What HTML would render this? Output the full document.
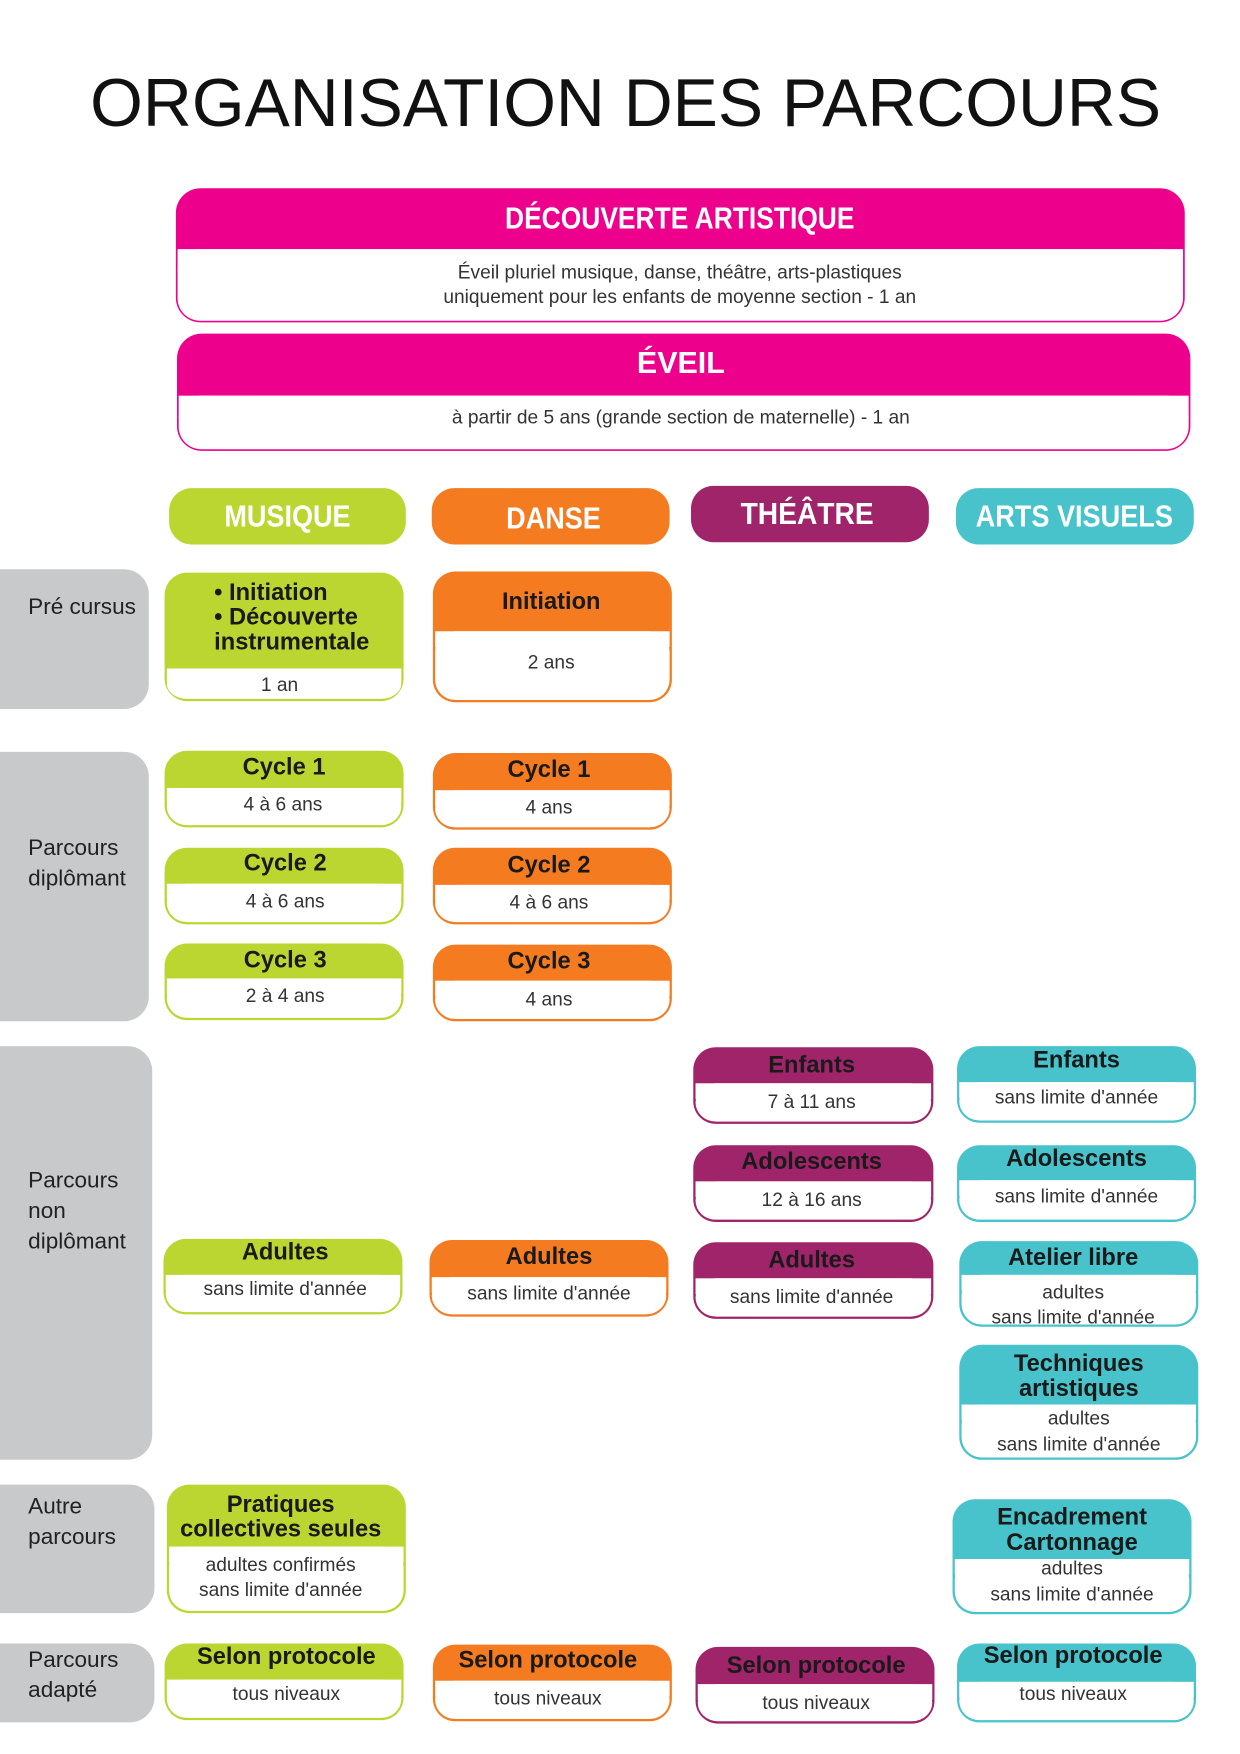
<!DOCTYPE html>
<html><head><meta charset="utf-8"><style>
html,body{margin:0;padding:0;background:#fff;}
svg{display:block;}
text{font-family:"Liberation Sans",sans-serif;dominant-baseline:central;}
.h{font-weight:bold;font-size:21px;fill:#1a1a1a;text-anchor:middle;}
.b{font-size:17px;fill:#333;text-anchor:middle;}
.w{font-weight:bold;fill:#fff;text-anchor:middle;}
.l{font-size:20px;fill:#222;}
</style></head><body>
<svg width="1240" height="1754" viewBox="0 0 1100 1556" xmlns="http://www.w3.org/2000/svg">
<text x="555" y="92" text-anchor="middle" font-size="60" fill="#111" textLength="950" lengthAdjust="spacingAndGlyphs">ORGANISATION DES PARCOURS</text>

<!-- Découverte -->
<rect x="156" y="167" width="895" height="119" rx="22" fill="#EC008C"/>
<rect x="157.5" y="221" width="892" height="63.5" rx="20" fill="#fff"/>
<rect x="157.5" y="221" width="892" height="20" fill="#fff"/>
<text class="w" x="603" y="194" font-size="27" textLength="310" lengthAdjust="spacingAndGlyphs">DÉCOUVERTE ARTISTIQUE</text>
<text class="b" x="603" y="242">Éveil pluriel musique, danse, théâtre, arts-plastiques</text>
<text class="b" x="603" y="264">uniquement pour les enfants de moyenne section - 1 an</text>

<!-- Eveil -->
<rect x="157" y="296" width="899" height="104" rx="22" fill="#EC008C"/>
<rect x="158.5" y="351" width="896" height="47.5" rx="20" fill="#fff"/>
<rect x="158.5" y="351" width="896" height="20" fill="#fff"/>
<text class="w" x="604" y="322" font-size="27">ÉVEIL</text>
<text class="b" x="604" y="371">à partir de 5 ans (grande section de maternelle) - 1 an</text>

<!-- categories -->
<rect x="150" y="433" width="210" height="50" rx="20" fill="#BCD631"/>
<text class="w" x="255" y="458" font-size="27" textLength="112" lengthAdjust="spacingAndGlyphs">MUSIQUE</text>
<rect x="383" y="433" width="211" height="50" rx="20" fill="#F47B20"/>
<text class="w" x="491" y="460" font-size="27" textLength="84" lengthAdjust="spacingAndGlyphs">DANSE</text>
<rect x="613" y="431" width="211" height="50" rx="20" fill="#A0246A"/>
<text class="w" x="716" y="456" font-size="27" textLength="118" lengthAdjust="spacingAndGlyphs">THÉÂTRE</text>
<rect x="848" y="433" width="211" height="50" rx="20" fill="#48C3CB"/>
<text class="w" x="953" y="458" font-size="27" textLength="175" lengthAdjust="spacingAndGlyphs">ARTS VISUELS</text>

<!-- left labels -->
<g fill="#C8C9CB">
<rect x="-30" y="505" width="162" height="124" rx="22"/>
<rect x="-30" y="667" width="162" height="239" rx="22"/>
<rect x="-30" y="928" width="165" height="367" rx="22"/>
<rect x="-30" y="1317" width="167" height="114" rx="22"/>
<rect x="-30" y="1458" width="167" height="70" rx="22"/>
</g>
<text class="l" x="25" y="538">Pré cursus</text>
<text class="l" x="25" y="752">Parcours</text>
<text class="l" x="25" y="779">diplômant</text>
<text class="l" x="25" y="1047">Parcours</text>
<text class="l" x="25" y="1074">non</text>
<text class="l" x="25" y="1101">diplômant</text>
<text class="l" x="25" y="1336">Autre</text>
<text class="l" x="25" y="1363">parcours</text>
<text class="l" x="25" y="1472">Parcours</text>
<text class="l" x="25" y="1499">adapté</text>

<!-- MUSIQUE column -->
<g>
<rect x="146" y="508" width="212" height="114" rx="20" fill="#BCD631"/>
<rect x="148" y="593" width="208" height="27" rx="18" fill="#fff"/><rect x="148" y="593" width="208" height="12" fill="#fff"/>
<text class="h" x="190" y="526" style="text-anchor:start">• Initiation</text>
<text class="h" x="190" y="548" style="text-anchor:start">• Découverte</text>
<text class="h" x="190" y="570" style="text-anchor:start">instrumentale</text>
<text class="b" x="248" y="608">1 an</text>

<rect x="146" y="666" width="212" height="68" rx="20" fill="#BCD631"/>
<rect x="148" y="699" width="208" height="33" rx="18" fill="#fff"/><rect x="148" y="699" width="208" height="14" fill="#fff"/>
<text class="h" x="252" y="681">Cycle 1</text><text class="b" x="251" y="714">4 à 6 ans</text>

<rect x="146" y="752" width="212" height="68" rx="20" fill="#BCD631"/>
<rect x="148" y="784" width="208" height="34" rx="18" fill="#fff"/><rect x="148" y="784" width="208" height="14" fill="#fff"/>
<text class="h" x="253" y="766">Cycle 2</text><text class="b" x="253" y="800">4 à 6 ans</text>

<rect x="146" y="837" width="212" height="68" rx="20" fill="#BCD631"/>
<rect x="148" y="868" width="208" height="35" rx="18" fill="#fff"/><rect x="148" y="868" width="208" height="14" fill="#fff"/>
<text class="h" x="253" y="852">Cycle 3</text><text class="b" x="253" y="884">2 à 4 ans</text>

<rect x="145" y="1099" width="212" height="67" rx="20" fill="#BCD631"/>
<rect x="147" y="1131" width="208" height="33" rx="18" fill="#fff"/><rect x="147" y="1131" width="208" height="14" fill="#fff"/>
<text class="h" x="253" y="1111">Adultes</text><text class="b" x="253" y="1144">sans limite d'année</text>

<rect x="148" y="1317" width="212" height="114" rx="20" fill="#BCD631"/>
<rect x="150" y="1372" width="208" height="57" rx="18" fill="#fff"/><rect x="150" y="1372" width="208" height="14" fill="#fff"/>
<text class="h" x="249" y="1335">Pratiques</text><text class="h" x="249" y="1357">collectives seules</text>
<text class="b" x="249" y="1389">adultes confirmés</text><text class="b" x="249" y="1411">sans limite d'année</text>

<rect x="146" y="1458" width="212" height="68" rx="20" fill="#BCD631"/>
<rect x="148" y="1490" width="208" height="34" rx="18" fill="#fff"/><rect x="148" y="1490" width="208" height="14" fill="#fff"/>
<text class="h" x="254" y="1470">Selon protocole</text><text class="b" x="254" y="1503">tous niveaux</text>
</g>

<!-- DANSE column -->
<g>
<rect x="384" y="507" width="212" height="116" rx="20" fill="#F47B20"/>
<rect x="386" y="560" width="208" height="61" rx="18" fill="#fff"/><rect x="386" y="560" width="208" height="14" fill="#fff"/>
<text class="h" x="489" y="534">Initiation</text><text class="b" x="489" y="588">2 ans</text>

<rect x="384" y="668" width="212" height="68" rx="20" fill="#F47B20"/>
<rect x="386" y="701" width="208" height="33" rx="18" fill="#fff"/><rect x="386" y="701" width="208" height="14" fill="#fff"/>
<text class="h" x="487" y="683">Cycle 1</text><text class="b" x="487" y="717">4 ans</text>

<rect x="384" y="752" width="212" height="68" rx="20" fill="#F47B20"/>
<rect x="386" y="785" width="208" height="33" rx="18" fill="#fff"/><rect x="386" y="785" width="208" height="14" fill="#fff"/>
<text class="h" x="487" y="768">Cycle 2</text><text class="b" x="487" y="801">4 à 6 ans</text>

<rect x="384" y="838" width="212" height="68" rx="20" fill="#F47B20"/>
<rect x="386" y="870" width="208" height="34" rx="18" fill="#fff"/><rect x="386" y="870" width="208" height="14" fill="#fff"/>
<text class="h" x="487" y="853">Cycle 3</text><text class="b" x="487" y="887">4 ans</text>

<rect x="381" y="1100" width="212" height="68" rx="20" fill="#F47B20"/>
<rect x="383" y="1133" width="208" height="33" rx="18" fill="#fff"/><rect x="383" y="1133" width="208" height="14" fill="#fff"/>
<text class="h" x="487" y="1115">Adultes</text><text class="b" x="487" y="1148">sans limite d'année</text>

<rect x="384" y="1459" width="212" height="68" rx="20" fill="#F47B20"/>
<rect x="386" y="1491" width="208" height="34" rx="18" fill="#fff"/><rect x="386" y="1491" width="208" height="14" fill="#fff"/>
<text class="h" x="486" y="1473">Selon protocole</text><text class="b" x="486" y="1507">tous niveaux</text>
</g>

<!-- THEATRE column -->
<g>
<rect x="615" y="929" width="213" height="68" rx="20" fill="#A0246A"/>
<rect x="617" y="961" width="209" height="34" rx="18" fill="#fff"/><rect x="617" y="961" width="209" height="14" fill="#fff"/>
<text class="h" x="720" y="945">Enfants</text><text class="b" x="720" y="978">7 à 11 ans</text>

<rect x="615" y="1016" width="213" height="68" rx="20" fill="#A0246A"/>
<rect x="617" y="1048" width="209" height="34" rx="18" fill="#fff"/><rect x="617" y="1048" width="209" height="14" fill="#fff"/>
<text class="h" x="720" y="1031">Adolescents</text><text class="b" x="720" y="1065">12 à 16 ans</text>

<rect x="615" y="1102" width="213" height="68" rx="20" fill="#A0246A"/>
<rect x="617" y="1134" width="209" height="34" rx="18" fill="#fff"/><rect x="617" y="1134" width="209" height="14" fill="#fff"/>
<text class="h" x="720" y="1118">Adultes</text><text class="b" x="720" y="1151">sans limite d'année</text>

<rect x="617" y="1461" width="212" height="68" rx="20" fill="#A0246A"/>
<rect x="619" y="1494" width="208" height="33" rx="18" fill="#fff"/><rect x="619" y="1494" width="208" height="14" fill="#fff"/>
<text class="h" x="724" y="1478">Selon protocole</text><text class="b" x="724" y="1511">tous niveaux</text>
</g>

<!-- ARTS VISUELS column -->
<g>
<rect x="849" y="928" width="212" height="68" rx="20" fill="#48C3CB"/>
<rect x="851" y="960" width="208" height="34" rx="18" fill="#fff"/><rect x="851" y="960" width="208" height="14" fill="#fff"/>
<text class="h" x="955" y="941">Enfants</text><text class="b" x="955" y="974">sans limite d'année</text>

<rect x="849" y="1016" width="212" height="68" rx="20" fill="#48C3CB"/>
<rect x="851" y="1047" width="208" height="35" rx="18" fill="#fff"/><rect x="851" y="1047" width="208" height="14" fill="#fff"/>
<text class="h" x="955" y="1028">Adolescents</text><text class="b" x="955" y="1062">sans limite d'année</text>

<rect x="851" y="1101" width="212" height="76" rx="20" fill="#48C3CB"/>
<rect x="853" y="1131" width="208" height="44" rx="18" fill="#fff"/><rect x="853" y="1131" width="208" height="14" fill="#fff"/>
<text class="h" x="952" y="1116">Atelier libre</text><text class="b" x="952" y="1147">adultes</text><text class="b" x="952" y="1169">sans limite d'année</text>

<rect x="851" y="1193" width="212" height="102" rx="20" fill="#48C3CB"/>
<rect x="853" y="1246" width="208" height="47" rx="18" fill="#fff"/><rect x="853" y="1246" width="208" height="14" fill="#fff"/>
<text class="h" x="957" y="1210">Techniques</text><text class="h" x="957" y="1232">artistiques</text>
<text class="b" x="957" y="1259">adultes</text><text class="b" x="957" y="1282">sans limite d'année</text>

<rect x="845" y="1330" width="212" height="102" rx="20" fill="#48C3CB"/>
<rect x="847" y="1383" width="208" height="47" rx="18" fill="#fff"/><rect x="847" y="1383" width="208" height="14" fill="#fff"/>
<text class="h" x="951" y="1346">Encadrement</text><text class="h" x="951" y="1369">Cartonnage</text>
<text class="b" x="951" y="1392">adultes</text><text class="b" x="951" y="1415">sans limite d'année</text>

<rect x="849" y="1458" width="212" height="70" rx="20" fill="#48C3CB"/>
<rect x="851" y="1492" width="208" height="34" rx="18" fill="#fff"/><rect x="851" y="1492" width="208" height="14" fill="#fff"/>
<text class="h" x="952" y="1469">Selon protocole</text><text class="b" x="952" y="1503">tous niveaux</text>
</g>
</svg>
</body></html>
